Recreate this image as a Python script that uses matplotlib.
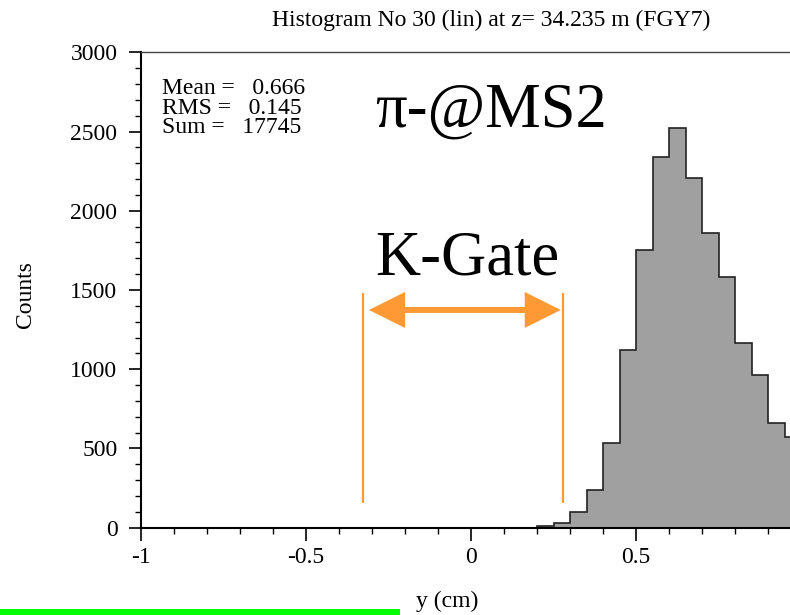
import numpy as np
import matplotlib
matplotlib.use("Agg")
import matplotlib.pyplot as plt
from matplotlib.patches import FancyArrowPatch, Rectangle, ArrowStyle
from matplotlib.ticker import MultipleLocator

plt.rcParams['font.family'] = ['Liberation Serif', 'DejaVu Serif']
plt.rcParams['axes.unicode_minus'] = False

# ---- data ----
bin_start = -1.0
bin_width = 0.05
counts = [0, 0, 0, 0, 0, 0, 0, 0, 0, 0,
          0, 0, 0, 0, 0, 0, 0, 0, 0, 0,
          0, 0, 0, 0, 11, 28, 101, 240, 532, 1120,
          1751, 2337, 2520, 2208, 1857, 1579, 1168, 966, 661, 572]
xticks = [-1, -0.5, 0, 0.5]
xticklabels = ['-1', '-0.5', '0', '0.5']
yticks = [0, 500, 1000, 1500, 2000, 2500, 3000]
yticklabels = ['0', '500', '1000', '1500', '2000', '2500', '3000']
gate_lo, gate_hi = -0.328, 0.278
gate_ylo, gate_yhi = 158, 1480
arrow_x0, arrow_x1, arrow_y = -0.309, 0.272, 1374
stats_lines = ['Mean =   0.666', 'RMS =   0.145', 'Sum =   17745']
title = 'Histogram No 30 (lin) at z= 34.235 m (FGY7)'

edges = bin_start + bin_width * np.arange(len(counts) + 1)

W, H = 790, 615
fig = plt.figure(figsize=(W / 100, H / 100), dpi=100)
ax_l, ax_r, ax_b, ax_t = 141, 801, 527.7, 52.3
ax = fig.add_axes([ax_l / W, (H - ax_b) / H, (ax_r - ax_l) / W, (ax_b - ax_t) / H])

ax.stairs(counts, edges, fill=True, facecolor='#a0a0a0', edgecolor='none', baseline=0)
ax.stairs(counts, edges, fill=False, color='#222222', linewidth=1.2, baseline=0)

ax.set_xlim(-1, 1)
ax.set_ylim(0, 3000)
ax.set_xticks(xticks)
ax.set_xticklabels(xticklabels)
ax.set_yticks(yticks)
ax.set_yticklabels(yticklabels)
ax.xaxis.set_minor_locator(MultipleLocator(0.1))
ax.yaxis.set_minor_locator(MultipleLocator(100))
ax.tick_params(axis='both', which='major', direction='out', length=9, width=1.2,
               labelsize=17, colors='black')
ax.tick_params(axis='x', which='major', pad=5)
ax.tick_params(axis='y', which='major', pad=8)
ax.tick_params(axis='both', which='minor', direction='out', length=4.5, width=1.0)
ax.tick_params(top=False, right=False, which='both')
for s in ['left', 'bottom']:
    ax.spines[s].set_linewidth(1.5)
    ax.spines[s].set_color('black')
ax.spines['top'].set_linewidth(1.0)
ax.spines['top'].set_color('#444444')
ax.spines['right'].set_visible(False)

# gate lines
orange = '#ff9933'
ax.vlines([gate_lo, gate_hi], gate_ylo, gate_yhi, colors=orange, linewidth=1.6)
arr = FancyArrowPatch((arrow_x0, arrow_y), (arrow_x1, arrow_y),
                      arrowstyle=ArrowStyle('<|-|>', head_length=19, head_width=9.5),
                      mutation_scale=1, color=orange, linewidth=4.3,
                      shrinkA=0, shrinkB=0, joinstyle='miter', capstyle='butt')
ax.add_patch(arr)

# big labels
ax.text(-0.29, 2530, 'π-@MS2', fontsize=45, ha='left', va='baseline')
ax.text(-0.29, 1600, 'K-Gate', fontsize=45, ha='left', va='baseline')

# stats
ax.text(0.032, 1 - (108 - ax_t) / (ax_b - ax_t), '\n'.join(stats_lines), transform=ax.transAxes,
        fontsize=17, ha='left', va='center', linespacing=0.9)

fig.text(491 / W, 1 - 20 / H, title, fontsize=17, ha='center', va='center')
fig.text(25 / W, 1 - 295 / H, 'Counts', fontsize=17, rotation=90, ha='center', va='center')
fig.text(447 / W, 1 - 601 / H, 'y (cm)', fontsize=17, ha='center', va='center')

fig.add_artist(Rectangle((0, 0), 400 / W, 6.5 / H, transform=fig.transFigure,
                         facecolor='#00ff00', edgecolor='none'))

fig.savefig('out.png', dpi=100)
